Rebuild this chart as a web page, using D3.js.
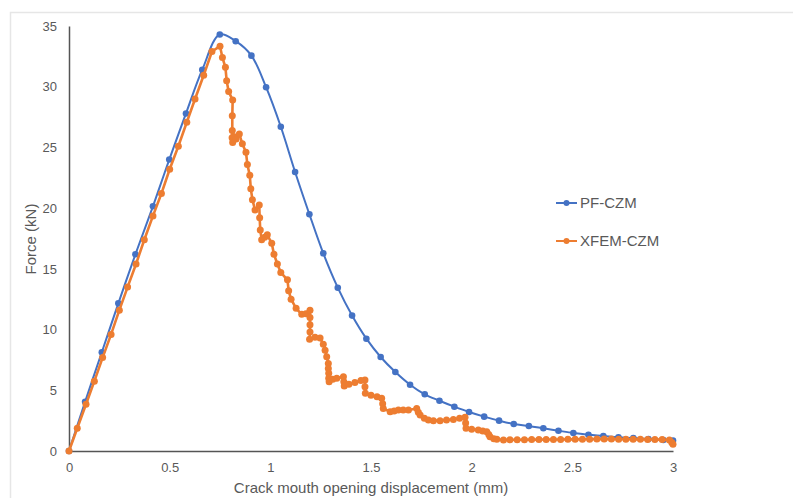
<!DOCTYPE html>
<html><head><meta charset="utf-8">
<script src="https://cdn.jsdelivr.net/npm/d3@7"></script>
<style>body{margin:0;background:#fff}svg{display:block;font-family:"Liberation Sans",Arial,sans-serif}</style>
</head><body><svg id="c" width="793" height="498"></svg>
<script>
const xTicks = [0, 0.5, 1, 1.5, 2, 2.5, 3];
const yTicks = [0, 5, 10, 15, 20, 25, 30, 35];
const seriesNames = ["PF-CZM", "XFEM-CZM"];
const seriesColors = ["#4472C4", "#ED7D31"];

const pfX = [0,0.08,0.163,0.245,0.33,0.417,0.498,0.581,0.662,0.749,0.828,0.906,0.979,1.052,1.123,1.194,1.263,1.335,1.406,1.477,1.548,1.621,1.694,1.767,1.84,1.914,1.987,2.062,2.136,2.209,2.284,2.356,2.431,2.505,2.58,2.654,2.729,2.803,2.878,2.952,3.0];
const pfY = [0,4.06,8.13,12.16,16.2,20.15,24.0,27.8,31.4,34.3,33.75,32.56,29.96,26.7,22.98,19.5,16.28,13.45,11.15,9.25,7.74,6.5,5.46,4.67,4.14,3.65,3.21,2.83,2.5,2.22,2.06,1.87,1.67,1.48,1.34,1.24,1.13,1.07,0.99,0.91,0.86];

const xfX = [0,0.041,0.0845,0.126,0.167,0.209,0.25,0.291,0.333,0.374,0.417,0.459,0.5,0.543,0.585,0.626,0.669,0.71,0.75,
 0.762,0.777,0.783,0.793,0.813,0.811,0.811,0.81,0.813,0.818,0.83,0.846,0.861,0.879,0.886,0.898,0.903,0.911,0.924,0.945,0.947,0.95,0.957,0.972,0.985,1.007,1.018,1.035,1.052,1.085,1.091,1.103,1.128,1.156,1.177,
 1.197,1.197,1.197,1.197,1.195,1.222,1.247,1.263,1.272,1.28,1.288,1.288,1.29,1.29,1.292,1.31,1.33,1.363,1.365,1.367,1.39,1.42,1.45,1.47,1.47,1.472,1.5,1.53,1.553,1.558,1.561,1.595,1.615,1.636,1.66,1.686,1.727,1.735,1.744,1.765,1.785,1.81,1.843,1.875,1.909,1.94,1.967,1.97,1.972,2.0,2.033,2.055,2.075,2.085,2.091,2.11,2.125,2.158,
 2.19,2.226,2.262,2.298,2.334,2.37,2.406,2.442,2.478,2.514,2.55,2.586,2.622,2.658,2.694,2.73,2.766,2.802,2.838,2.874,2.91,2.946,2.982,2.994,3.0];
const xfY = [0,1.87,3.85,5.75,7.69,9.6,11.6,13.5,15.4,17.4,19.36,21.2,23.2,25.1,27.07,28.99,30.94,32.9,33.34,
 32.4,31.6,30.5,29.6,28.9,27.6,26.4,25.8,25.4,25.9,25.7,26.1,25.3,24.6,23.6,22.7,21.6,20.7,19.85,20.26,19.2,18.2,17.4,17.6,17.8,17.1,16.2,15.4,14.7,14.1,13.2,12.5,11.75,11.26,11.3,
 11.6,11.0,10.4,9.8,9.2,9.37,9.3,8.8,8.3,7.77,7.2,6.8,6.4,6.0,5.7,5.9,6.0,6.12,5.7,5.35,5.5,5.65,5.8,5.85,5.3,4.75,4.6,4.47,4.34,3.9,3.5,3.24,3.3,3.38,3.38,3.38,3.5,3.2,2.97,2.7,2.55,2.5,2.5,2.55,2.6,2.7,2.77,2.3,1.87,1.8,1.73,1.65,1.59,1.35,1.18,1.0,0.96,0.9,
 0.92,0.93,0.93,0.94,0.94,0.95,0.95,0.95,0.96,0.96,0.97,0.97,0.98,0.98,0.98,0.97,0.97,0.96,0.96,0.95,0.95,0.94,0.9,0.7,0.55];

const svg = d3.select("#c");
const x = d3.scaleLinear().domain([0, 3]).range([69, 673]);
const y = d3.scaleLinear().domain([0, 35]).range([451, 26]);

// chart area border
svg.append("path").attr("d", "M10.5,498 V12.5 H793").attr("fill", "none").attr("stroke", "#e6e6e6").attr("stroke-width", 1.5);

// axes
const gx = svg.append("g").attr("transform", "translate(0,451)")
  .call(d3.axisBottom(x).tickValues(xTicks).tickSize(0).tickPadding(12).tickFormat(d3.format("~g")));
const gy = svg.append("g").attr("transform", "translate(69,0)")
  .call(d3.axisLeft(y).tickValues(yTicks).tickSize(0).tickPadding(12));
[gx, gy].forEach(g => {
  g.select(".domain").attr("stroke", "#555").attr("stroke-width", 1.5);
  g.selectAll("text").attr("fill", "#595959").style("font-size", "13px").style("font-family", "'Liberation Sans',Arial,sans-serif");
});

svg.append("text").attr("x", 371).attr("y", 493).attr("text-anchor", "middle")
  .attr("fill", "#595959").style("font-size", "15px").text("Crack mouth opening displacement (mm)");
svg.append("text").attr("transform", "translate(36,239) rotate(-90)").attr("text-anchor", "middle")
  .attr("fill", "#595959").style("font-size", "15px").text("Force (kN)");

const pfData = pfX.map((v, i) => [v, pfY[i]]);
const xfData = xfX.map((v, i) => [v, xfY[i]]);

// PF-CZM smooth line
svg.append("path").datum(pfData)
  .attr("d", d3.line().x(d => x(d[0])).y(d => y(d[1])).curve(d3.curveCatmullRom.alpha(0.5)))
  .attr("fill", "none").attr("stroke", seriesColors[0]).attr("stroke-width", 2);
svg.append("g").selectAll("circle").data(pfData).join("circle")
  .attr("cx", d => x(d[0])).attr("cy", d => y(d[1])).attr("r", 3.3).attr("fill", seriesColors[0]);

// XFEM-CZM
svg.append("path").datum(xfData)
  .attr("d", d3.line().x(d => x(d[0])).y(d => y(d[1])))
  .attr("fill", "none").attr("stroke", seriesColors[1]).attr("stroke-width", 2.6).attr("stroke-linejoin", "round");
svg.append("g").selectAll("circle").data(xfData).join("circle")
  .attr("cx", d => x(d[0])).attr("cy", d => y(d[1])).attr("r", 3.5).attr("fill", seriesColors[1]);

// legend
const legY = [203, 241];
seriesNames.forEach((n, i) => {
  const g = svg.append("g");
  g.append("line").attr("x1", 556).attr("x2", 577).attr("y1", legY[i]).attr("y2", legY[i])
    .attr("stroke", seriesColors[i]).attr("stroke-width", 2);
  g.append("circle").attr("cx", 566.5).attr("cy", legY[i]).attr("r", 3).attr("fill", seriesColors[i]);
  g.append("text").attr("x", 580).attr("y", legY[i]).attr("dy", "0.36em")
    .attr("fill", "#595959").style("font-size", "15px").text(n);
});
</script></body></html>
